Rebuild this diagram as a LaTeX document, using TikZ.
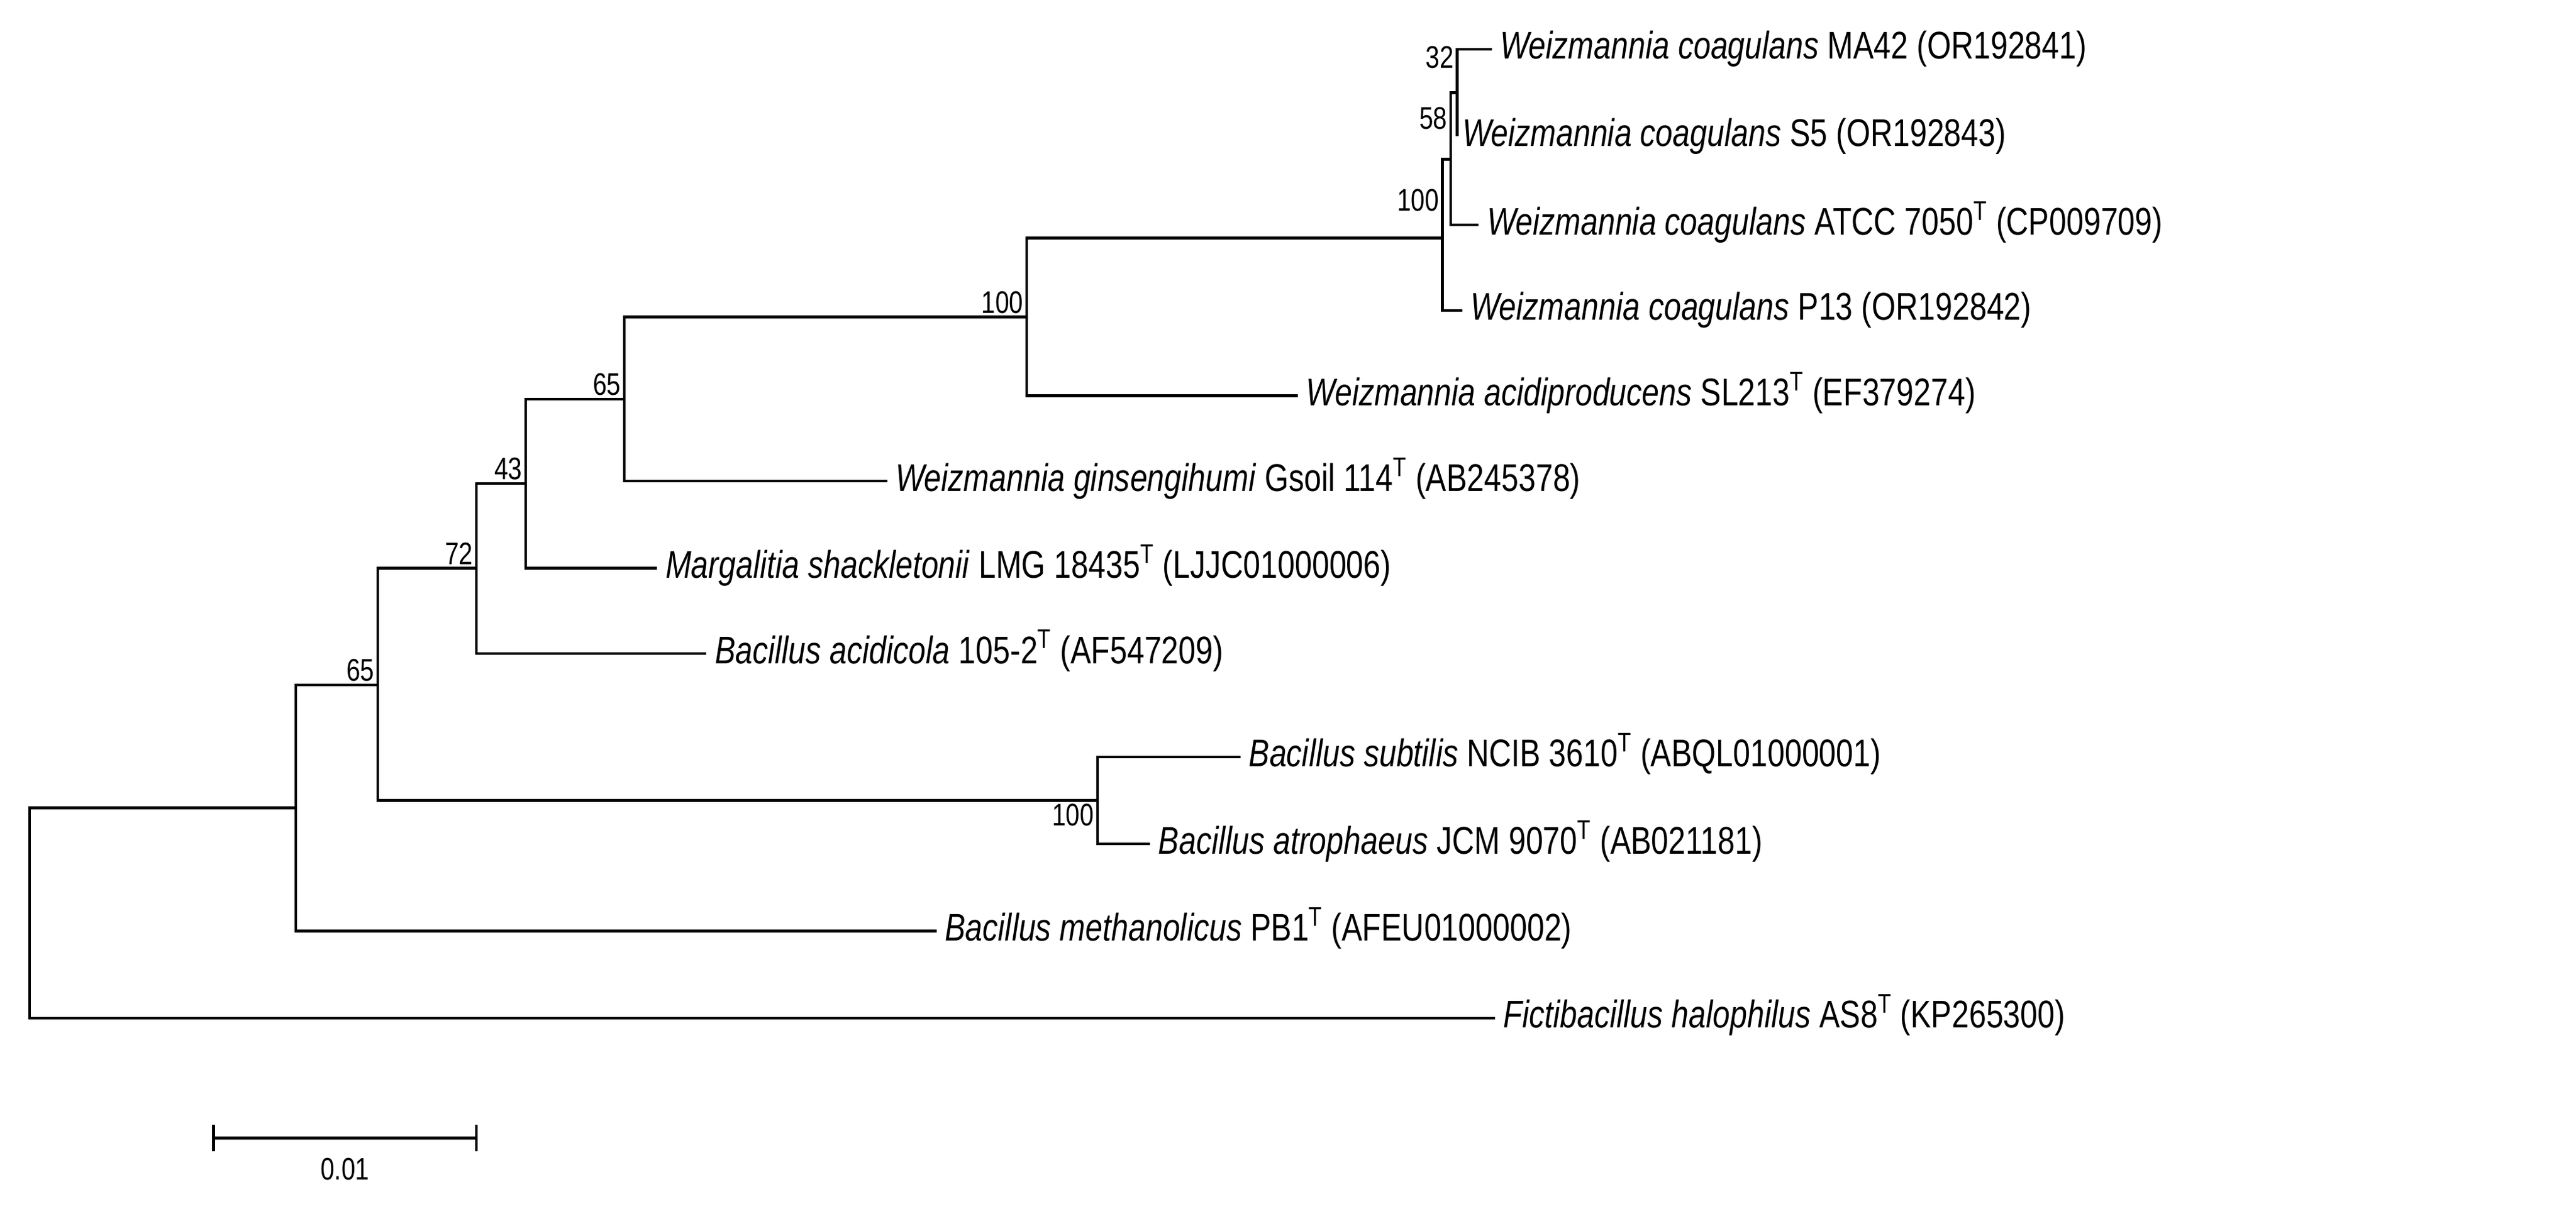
\documentclass[tikz,border=0pt]{standalone}
\usepackage{fontspec}
\setmainfont{Liberation Sans}[FakeStretch=0.8]
\usetikzlibrary{positioning,calc}
\tikzset{
	br/.style={line width=1.6pt},
	leaf/.style={anchor=west, inner xsep=5pt, inner ysep=0pt, text height=17pt, text depth=5pt, font=\fontsize{23.5}{26}\selectfont},
	bs/.style={font=\fontsize{19}{21}\selectfont, inner sep=2pt}
}
\begin{document}
\begin{tikzpicture}[x=1pt,y=-1pt]
\useasboundingbox(0,0)rectangle(1568,742);
% internal nodes
\coordinate(root)at(18,556);
\coordinate(n1)at(180,492);
\coordinate(n2)at(230,417);
\coordinate(n3)at(290,346);
\coordinate(n4)at(320,294.5);
\coordinate(n5)at(380,243);
\coordinate(n6)at(625,193);
\coordinate(n7)at(878,145);
\coordinate(n8)at(883,97);
\coordinate(n9)at(887,56.5);
\coordinate(ne)at(668,487.5);
% leaves
\node[leaf](l1)at(908,30){\textit{Weizmannia coagulans} MA42 (OR192841)};
\node[leaf,inner xsep=3pt](l2)at(887,83){\textit{Weizmannia coagulans} S5 (OR192843)};
\node[leaf](l3)at(900,137){\textit{Weizmannia coagulans} ATCC 7050\textsuperscript{T} (CP009709)};
\node[leaf](l4)at(890,189){\textit{Weizmannia coagulans} P13 (OR192842)};
\node[leaf](l5)at(790,241){\textit{Weizmannia acidiproducens} SL213\textsuperscript{T} (EF379274)};
\node[leaf](l6)at(540,293){\textit{Weizmannia ginsengihumi} Gsoil 114\textsuperscript{T} (AB245378)};
\node[leaf](l7)at(400,346){\textit{Margalitia shackletonii} LMG 18435\textsuperscript{T} (LJJC01000006)};
\node[leaf](l8)at(430,398){\textit{Bacillus acidicola} 105-2\textsuperscript{T} (AF547209)};
\node[leaf](l9)at(755,461){\textit{Bacillus subtilis} NCIB 3610\textsuperscript{T} (ABQL01000001)};
\node[leaf](l10)at(700,514){\textit{Bacillus atrophaeus} JCM 9070\textsuperscript{T} (AB021181)};
\node[leaf](l11)at(570,567){\textit{Bacillus methanolicus} PB1\textsuperscript{T} (AFEU01000002)};
\node[leaf](l12)at(910,620){\textit{Fictibacillus halophilus} AS8\textsuperscript{T} (KP265300)};
% branches
\draw[br](root)|-(n1) (root)|-(l12.west);
\draw[br](n1)|-(n2) (n1)|-(l11.west);
\draw[br](n2)|-(n3) (n2)|-(ne);
\draw[br](ne)|-(l9.west) (ne)|-(l10.west);
\draw[br](n3)|-(n4) (n3)|-(l8.west);
\draw[br](n4)|-(n5) (n4)|-(l7.west);
\draw[br](n5)|-(n6) (n5)|-(l6.west);
\draw[br](n6)|-(n7) (n6)|-(l5.west);
\draw[br](n7)|-(n8) (n7)|-(l4.west);
\draw[br](n8)|-(n9) (n8)|-(l3.west);
\draw[br](n9)|-(l1.west) (n9)|-(l2.west);
% bootstrap values
\node[bs,above left]at(n2){65};
\node[bs,above left]at(n3){72};
\node[bs,above left]at(n4){43};
\node[bs,above left]at(n5){65};
\node[bs,above left]at(n6){100};
\node[bs,left]at(n7|-0,122){100};
\node[bs,left]at(n8|-0,72){58};
\node[bs,left]at(n9|-0,35){32};
\node[bs,below left]at(ne){100};
% scale bar
\coordinate(sa)at(130,693);
\coordinate(sb)at(290,693);
\draw[br](sa)--(sb) (sa)++(0,-8)--++(0,16) (sb)++(0,-8)--++(0,16);
\node[bs,below=10pt]at($(sa)!0.5!(sb)$){0.01};
\end{tikzpicture}
\end{document}
